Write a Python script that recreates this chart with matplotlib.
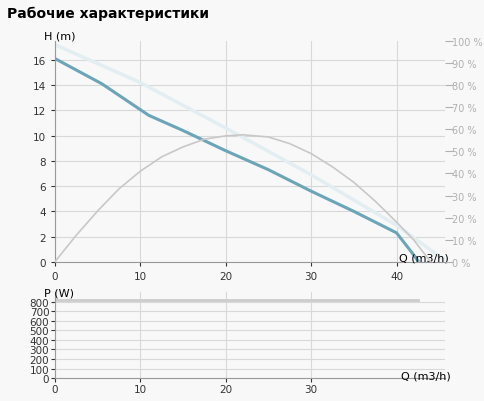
import matplotlib.pyplot as plt

q_head = [0, 5.5, 11, 15, 20, 25, 30, 35, 40, 41.5, 42.5]
head = [16.1, 14.1, 11.6, 10.4, 8.8, 7.3, 5.6, 4.0, 2.3, 1.0, 0.1]
q_light = [0, 10, 20, 30, 40, 45.5]
light = [17.2, 14.2, 10.6, 6.9, 2.9, 0.2]
q_eff = [0, 2.5, 5, 7.5, 10, 12.5, 15, 17.5, 20, 22, 25, 27.5, 30, 32.5, 35, 37.5, 40, 42, 44]
eff = [0, 12, 23, 33, 41, 47.5, 52, 55.5, 57, 57.5, 56.5, 53.5, 49, 43, 36, 27.5, 18, 10, 0]
q_pow = [0, 42.5]
power = [820, 820]

bg = '#f8f8f8'
fig = plt.figure(figsize=(4.85, 4.02), dpi=100, facecolor=bg)
fig.text(0.015, 0.955, 'Рабочие характеристики', fontsize=10, fontweight='bold')

ax = fig.add_axes([0.113, 0.346, 0.805, 0.55], facecolor=bg)
ax.plot(q_light, light, color='#e2eef2', lw=2.5)
ax.plot(q_head, head, color='#6aa5b8', lw=2.2)
ax.set_xlim(0, 45.7)
ax.set_ylim(0, 17.5)
ax.set_xticks([0, 10, 20, 30, 40])
ax.set_yticks(range(0, 17, 2))
ax.grid(color='#d8d8d8', lw=0.8)
for s in ['top', 'right']:
    ax.spines[s].set_visible(False)
ax.spines['left'].set_color('#999')
ax.spines['bottom'].set_color('#999')
ax.tick_params(labelsize=7.5, colors='#333', length=3)
ax.text(-1.3, 17.5, 'H (m)', fontsize=8, va='bottom')
ax.text(40.3, 0.15, 'Q (m3/h)', fontsize=8)

ax2 = ax.twinx()
ax2.plot(q_eff, eff, color='#c8c8c8', lw=1.2)
ax2.set_ylim(0, 100)
ax2.set_yticks(range(0, 101, 10))
ax2.set_yticklabels([f'{v} %' for v in range(0, 101, 10)])
for s in ax2.spines.values():
    s.set_visible(False)
ax2.tick_params(labelsize=7, colors='#b0b0b0', length=6, pad=-1)

bx = fig.add_axes([0.113, 0.057, 0.805, 0.214], facecolor=bg)
bx.plot(q_pow, power, color='#cccccc', lw=2)
bx.set_xlim(0, 45.7)
bx.set_ylim(0, 900)
bx.set_xticks([0, 10, 20, 30])
bx.set_yticks(range(0, 801, 100))
bx.grid(color='#d8d8d8', lw=0.8)
for s in ['top', 'right']:
    bx.spines[s].set_visible(False)
bx.spines['left'].set_color('#999')
bx.spines['bottom'].set_color('#999')
bx.tick_params(labelsize=7.5, colors='#333', length=3, pad=1)
bx.text(-1.3, 900, 'P (W)', fontsize=8, va='center')
bx.text(40.5, 0, 'Q (m3/h)', fontsize=8)

fig.savefig('out.png', facecolor=bg)
